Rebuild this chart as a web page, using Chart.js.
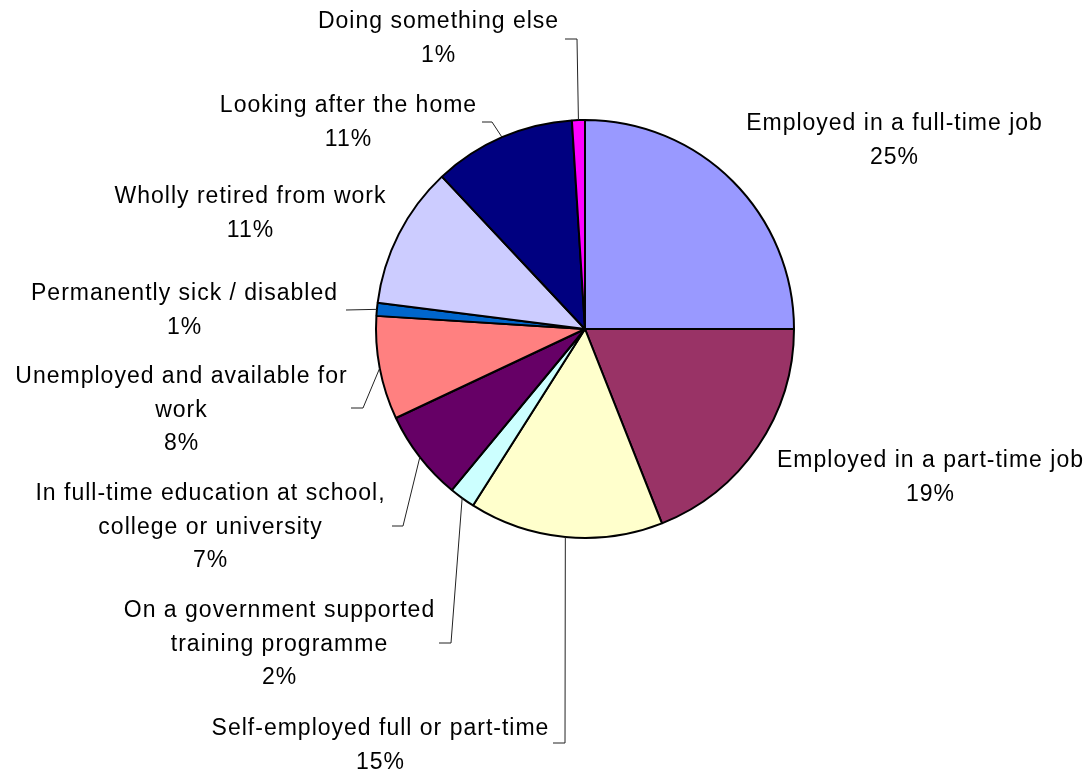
<!DOCTYPE html>
<html>
<head>
<meta charset="utf-8">
<script src="https://cdn.jsdelivr.net/npm/chart.js@4/dist/chart.umd.min.js"></script>
<style>
  html, body { margin: 0; padding: 0; background: #ffffff; }
  #wrap { width: 1090px; height: 773px; position: relative; }
</style>
</head>
<body>
<div id="wrap"><canvas id="chart" width="1090" height="773"></canvas></div>
<script>
// Economic activity categories, clockwise from 12 o'clock
const categories = [
  ['Employed in a full-time job'],
  ['Employed in a part-time job'],
  ['Self-employed full or part-time'],
  ['On a government supported', 'training programme'],
  ['In full-time education at school,', 'college or university'],
  ['Unemployed and available for', 'work'],
  ['Permanently sick / disabled'],
  ['Wholly retired from work'],
  ['Looking after the home'],
  ['Doing something else']
];

// Share of respondents (%)
const shares = [25, 19, 15, 2, 7, 8, 1, 11, 11, 1];

const sliceColors = [
  '#9999FF', '#993366', '#FFFFCC', '#CCFFFF', '#660066',
  '#FF8080', '#0066CC', '#CCCCFF', '#000080', '#FF00FF'
];

// Label placement: text centre x and first baseline y, plus optional leader
// elbow / end points (null = no leader line)
const labelPlacement = [
  { x: 894, y: 130, elbow: null, end: null },
  { x: 930, y: 467, elbow: null, end: null },
  { x: 380, y: 735, elbow: [565, 743], end: [553, 743] },
  { x: 279, y: 617, elbow: [451, 643], end: [439, 643] },
  { x: 210, y: 500, elbow: [403, 526], end: [392, 526] },
  { x: 181, y: 383, elbow: [363, 408], end: [351, 408] },
  { x: 184, y: 300, elbow: [346, 310], end: [346, 310] },
  { x: 250, y: 203, elbow: null, end: null },
  { x: 348, y: 112, elbow: [492, 122], end: [482, 122] },
  { x: 438, y: 28,  elbow: [577, 39],  end: [565, 39] }
];

const LINE_STEP = 33.5;
const LABEL_FONT = '23px "Liberation Sans", Arial, sans-serif';

// Draws the outside category labels with their percentages and leader lines
const outsideLabels = {
  id: 'outsideLabels',
  afterDatasetsDraw(chart) {
    const ctx = chart.ctx;
    const meta = chart.getDatasetMeta(0);
    const values = chart.data.datasets[0].data;
    const total = values.reduce((a, b) => a + b, 0);
    ctx.save();

    // leader lines from the middle of each slice's outer edge
    ctx.strokeStyle = '#222222';
    ctx.lineWidth = 1;
    meta.data.forEach((arc, i) => {
      const p = labelPlacement[i];
      if (!p.elbow) return;
      const mid = (arc.startAngle + arc.endAngle) / 2;
      const sx = arc.x + Math.cos(mid) * arc.outerRadius;
      const sy = arc.y + Math.sin(mid) * arc.outerRadius;
      ctx.beginPath();
      ctx.moveTo(sx, sy);
      ctx.lineTo(p.elbow[0], p.elbow[1]);
      ctx.lineTo(p.end[0], p.end[1]);
      ctx.stroke();
    });

    // label text
    ctx.fillStyle = '#000000';
    ctx.font = LABEL_FONT;
    ctx.textAlign = 'center';
    ctx.textBaseline = 'alphabetic';
    if ('letterSpacing' in ctx) ctx.letterSpacing = '1px';
    categories.forEach((lines, i) => {
      const p = labelPlacement[i];
      const pct = Math.round(values[i] / total * 100) + '%';
      const all = lines.concat([pct]);
      all.forEach((t, k) => ctx.fillText(t, p.x + 0.5, p.y + k * LINE_STEP));
    });
    ctx.restore();
  }
};

new Chart(document.getElementById('chart'), {
  type: 'pie',
  data: {
    labels: categories.map(l => l.join(' ')),
    datasets: [{
      data: shares,
      backgroundColor: sliceColors,
      borderColor: '#000000',
      borderWidth: 2
    }]
  },
  options: {
    responsive: false,
    animation: false,
    radius: 209,
    layout: { padding: { left: 100, right: 20, top: 2, bottom: 117 } },
    plugins: {
      legend: { display: false },
      tooltip: { enabled: false }
    }
  },
  plugins: [outsideLabels]
});
</script>
</body>
</html>
